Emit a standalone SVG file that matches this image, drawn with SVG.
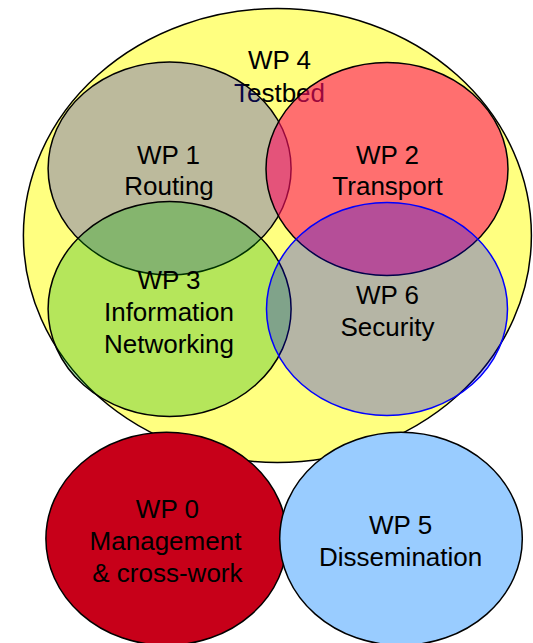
<svg xmlns="http://www.w3.org/2000/svg" width="533" height="643" viewBox="0 0 533 643">
<style>
ellipse { stroke: #000; stroke-width: 1.5; }
text { font-family: "Liberation Sans", Arial, sans-serif; font-size: 26px; fill: #000; text-anchor: middle; }
.wp4 { fill: #FFFF80; }
.wp1 { fill: rgb(32,28,221); fill-opacity: 0.3; }
.wp2 { fill: rgb(255,15,100); fill-opacity: 0.6; }
.wp3 { fill: rgb(0,169,0); fill-opacity: 0.29; }
.wp6 { fill: rgb(0,0,255); fill-opacity: 0.29; stroke: #0000FF; }
.wp0 { fill: #C70019; }
.wp5 { fill: #99CCFF; }
</style>
<rect width="533" height="643" fill="#FFFFFF"/>
<g id="wp4">
  <ellipse class="wp4" cx="277.4" cy="235.5" rx="254" ry="227"/>
  <text x="279.5" y="68.5">WP 4</text>
  <text x="279.5" y="101.7">Testbed</text>
</g>
<g id="wp1">
  <ellipse class="wp1" cx="169.6" cy="168.5" rx="121.5" ry="106.5"/>
</g>
<g id="wp2">
  <ellipse class="wp2" cx="387" cy="169" rx="121" ry="106.5"/>
</g>
<g id="wp3">
  <ellipse class="wp3" cx="169.6" cy="309" rx="121.5" ry="107.5"/>
</g>
<g id="wp6">
  <ellipse class="wp6" cx="387" cy="309" rx="120.5" ry="106.5"/>
</g>
<g id="labels-upper">
  <text x="168.5" y="163.5">WP 1</text>
  <text x="169" y="195">Routing</text>
  <text x="387.5" y="163.5">WP 2</text>
  <text x="387.5" y="195">Transport</text>
  <text x="169" y="289">WP 3</text>
  <text x="169" y="321">Information</text>
  <text x="169" y="353">Networking</text>
  <text x="387.5" y="304">WP 6</text>
  <text x="387.5" y="336">Security</text>
</g>
<g id="wp0">
  <ellipse class="wp0" cx="166.5" cy="538.8" rx="120.6" ry="106.5"/>
  <text x="167.4" y="518">WP 0</text>
  <text x="165.5" y="549.5">Management</text>
  <text x="167.4" y="581.5">&amp; cross-work</text>
</g>
<g id="wp5">
  <ellipse class="wp5" cx="401" cy="538.8" rx="121.3" ry="106.5"/>
  <text x="400.6" y="533.5">WP 5</text>
  <text x="400.6" y="565.5">Dissemination</text>
</g>
</svg>
